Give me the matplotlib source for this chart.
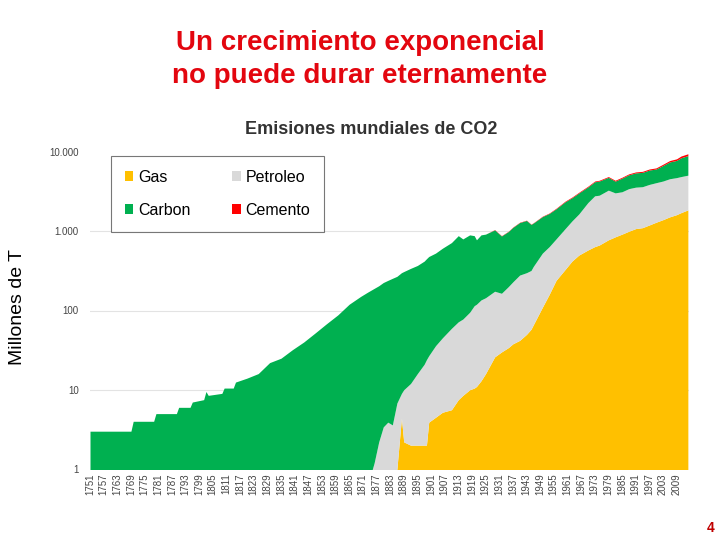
import numpy as np
import matplotlib.pyplot as plt
from matplotlib.patches import Patch

plt.rcParams['font.family'] = ['Liberation Sans', 'DejaVu Sans']

# Data (millones de toneladas de carbono)
years = [1751, 1769, 1770, 1779, 1780, 1789, 1790, 1795, 1796, 1801,
         1802, 1803, 1809, 1810, 1814, 1815, 1820, 1825, 1830, 1835,
         1840, 1845, 1850, 1855, 1860, 1865, 1870, 1873, 1876, 1878,
         1880, 1882, 1884, 1886, 1888, 1889, 1892, 1895, 1898, 1899,
         1900, 1903, 1906, 1910, 1913, 1915, 1918, 1920, 1921, 1923,
         1925, 1929, 1932, 1935, 1937, 1940, 1943, 1945, 1946, 1950,
         1953, 1956, 1960, 1963, 1966, 1970, 1973, 1975, 1979, 1982,
         1985, 1988, 1991, 1994, 1997, 2000, 2003, 2006, 2009, 2011,
         2014]

gas = [0] * 33 + [1, 4.4, 2.2, 2, 2, 2, 2,
       3.9, 4.5, 5.2, 5.6, 7.5, 8.5, 10, 10.5, 11, 13,
       16, 26, 30, 34, 38, 42, 50, 58, 66, 110,
       160, 240, 330, 420, 500, 580, 640, 670, 780, 850,
       920, 1000, 1080, 1110, 1200, 1300, 1400, 1520, 1620, 1720,
       1860]

petroleo = [0] * 26 + [0.3, 0.6, 1.2, 2.2,
            3.4, 3.9, 3.6, 5.8, 4.6, 7.8, 10, 14, 19, 22,
            23, 31.5, 40, 54, 64.5, 69.5, 85, 104.5, 109, 123,
            129, 149, 135, 166, 192, 238, 250, 262, 294, 420,
            480, 560, 750, 930, 1150, 1720, 2160, 2180, 2520, 2200,
            2230, 2450, 2520, 2540, 2700, 2800, 2900, 3080, 3130, 3180,
            3240]

carbon = [3, 3, 4, 4, 5, 5, 6, 6, 7, 7.5,
          9.5, 8.5, 9, 10.5, 10.5, 12.5, 14, 16, 22, 25,
          32, 40, 52, 68, 88, 120, 150, 169, 189, 203,
          222, 236, 251, 263, 291, 300, 328, 354, 399, 426,
          453, 494, 565, 660, 808, 722, 805, 765, 660, 764,
          775, 865, 707, 791, 889, 1008, 1068, 900, 909, 1002,
          1038, 1120, 1277, 1298, 1388, 1322, 1410, 1455, 1488, 1240,
          1530, 1710, 1850, 1885, 2020, 2000, 2460, 2900, 3080, 3570,
          3900]

cemento = [0] * 51 + [10, 8, 9, 11, 12, 12, 10, 11, 18,
           22, 30, 43, 52, 62, 78, 90, 95, 112, 110,
           120, 140, 150, 165, 180, 200, 240, 300, 370, 430,
           500]

labels = ['Gas', 'Petroleo', 'Carbon', 'Cemento']
colors = ['#FFC000', '#D9D9D9', '#00B050', '#FF0000']
tick_years = list(range(1751, 2010, 6))

x = np.array(years)
layers = np.vstack([gas, petroleo, carbon, cemento]).astype(float)
tops = np.cumsum(layers, axis=0)
floor = 0.5

fig = plt.figure(figsize=(7.2, 5.4), dpi=100)
ax = fig.add_axes([90 / 720, 71 / 540, 599 / 720, 317 / 540])

lower = np.full(len(x), floor)
for top, c in zip(tops, colors):
    upper = np.maximum(top, floor)
    ax.fill_between(x, lower, upper, color=c, linewidth=0)
    lower = upper

ax.set_yscale('log')
ax.set_ylim(1, 10000)
ax.set_xlim(1751, 2014.5)
ax.set_yticks([1, 10, 100, 1000, 10000])
ax.set_yticklabels(['1', '10', '100', '1.000', '10.000'])
ax.minorticks_off()
ax.set_xticks(tick_years)
ax.set_xticklabels([str(y) for y in tick_years], rotation=90)
ax.tick_params(axis='both', length=0, labelsize=7, colors='#444444')
ax.tick_params(axis='x', pad=3)
ax.tick_params(axis='y', pad=8)
ax.yaxis.grid(True, color='#e3e3e3', linewidth=0.8)
ax.set_axisbelow(True)
ax.get_ygridlines()[-1].set_visible(False)
ax.get_ygridlines()[0].set_visible(False)
for s in ax.spines.values():
    s.set_visible(False)

# legend rows: Gas / Petroleo, Carbon / Cemento (matplotlib fills by column)
order = [0, 2, 1, 3]
handles = [Patch(facecolor=colors[i], edgecolor='none') for i in order]
leg = fig.legend(handles, [labels[i] for i in order], ncol=2, loc='upper left',
                 bbox_to_anchor=(111 / 720, 1 - 156 / 540), borderaxespad=0,
                 fontsize=11.5, frameon=True, fancybox=False,
                 handlelength=0.55, handleheight=0.55, handletextpad=0.3,
                 columnspacing=2.6, labelspacing=1.15, borderpad=0.85)
leg.get_frame().set_edgecolor('#555555')
leg.get_frame().set_linewidth(0.8)

fig.text(371 / 720, 1 - 129 / 540, 'Emisiones mundiales de CO2',
         ha='center', va='center', fontsize=13, fontweight='bold', color='#333333')
fig.text(360 / 720, 1 - 43 / 540, 'Un crecimiento exponencial',
         ha='center', va='center', fontsize=20, fontweight='bold', color='#E3060F')
fig.text(360 / 720, 1 - 76 / 540, 'no puede durar eternamente',
         ha='center', va='center', fontsize=20, fontweight='bold', color='#E3060F')
fig.text(18 / 720, 1 - 307 / 540, 'Millones de T', rotation=90,
         ha='center', va='center', fontsize=14, color='black')
fig.text(711 / 720, 1 - 528 / 540, '4', ha='center', va='center',
         fontsize=10, fontweight='bold', color='#C00000')

fig.savefig('out.png', dpi=100)
